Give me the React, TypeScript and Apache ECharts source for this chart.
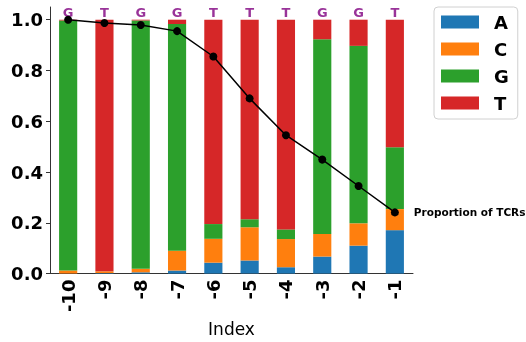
import React, { useEffect, useRef } from "react";
import * as echarts from "echarts";

const categories = ["-10", "-9", "-8", "-7", "-6", "-5", "-4", "-3", "-2", "-1"];
const seriesA = [0.0, 0.002, 0.005, 0.012, 0.043, 0.052, 0.025, 0.067, 0.11, 0.171];
const seriesC = [0.012, 0.007, 0.014, 0.078, 0.094, 0.13, 0.111, 0.089, 0.088, 0.083];
const seriesG = [0.985, 0.0, 0.978, 0.893, 0.058, 0.032, 0.038, 0.767, 0.699, 0.244];
const seriesT = [0.003, 0.991, 0.003, 0.017, 0.805, 0.786, 0.826, 0.077, 0.103, 0.502];
const proportion = [1.0, 0.987, 0.979, 0.955, 0.855, 0.69, 0.545, 0.449, 0.345, 0.241];
const topLetters = ["G", "T", "G", "G", "T", "T", "T", "G", "G", "T"];
const yTicks = [0, 0.2, 0.4, 0.6, 0.8, 1.0];
const lineLabel = "Proportion of TCRs";

const colors = { A: "#1f77b4", C: "#ff7f0e", G: "#2ca02c", T: "#d62728" };
const FONT = "DejaVu Sans";

export default function App() {
  const ref = useRef<HTMLDivElement>(null);
  useEffect(() => {
    if (!ref.current) return;
    const chart = echarts.init(ref.current, null, { renderer: "svg" });
    const bar = (name: string, data: number[], color: string) => ({
      name,
      type: "bar",
      stack: "total",
      data,
      barWidth: "50%",
      itemStyle: { color },
    });
    chart.setOption({
      animation: false,
      textStyle: { fontFamily: FONT },
      grid: { left: 50, top: 7, width: 363, bottom: 65 },
      legend: {
        data: ["A", "C", "G", "T"],
        orient: "vertical",
        left: 434,
        top: 7,
        icon: "rect",
        itemWidth: 38,
        itemHeight: 13,
        itemGap: 7,
        padding: [5, 9, 6, 7],
        borderColor: "#d0d0d0",
        borderWidth: 1,
        borderRadius: 4,
        textStyle: {
          fontFamily: FONT,
          fontWeight: "bold",
          fontSize: 18,
          color: "#000",
          lineHeight: 20,
          padding: [0, 0, 0, 10],
        },
      },
      xAxis: {
        type: "category",
        data: categories,
        name: "Index",
        nameLocation: "middle",
        nameGap: 44,
        nameTextStyle: { fontFamily: FONT, fontSize: 17, color: "#000" },
        axisLine: { lineStyle: { color: "#333", width: 1 } },
        axisTick: { alignWithLabel: true, length: 4, lineStyle: { color: "#333" } },
        axisLabel: {
          rotate: 90,
          fontFamily: FONT,
          fontWeight: "bold",
          fontSize: 18,
          color: "#000",
          margin: 6,
        },
      },
      yAxis: {
        type: "value",
        min: 0,
        max: 1.05,
        interval: 0.2,
        splitLine: { show: false },
        axisLine: { show: true, lineStyle: { color: "#333", width: 1 } },
        axisTick: { show: true, length: 4, customValues: yTicks, lineStyle: { color: "#333" } },
        axisLabel: {
          customValues: yTicks,
          formatter: (v: number) => v.toFixed(1),
          fontFamily: FONT,
          fontWeight: "bold",
          fontSize: 18,
          color: "#000",
          margin: 7,
        },
      },
      series: [
        bar("A", seriesA, colors.A),
        bar("C", seriesC, colors.C),
        bar("G", seriesG, colors.G),
        bar("T", seriesT, colors.T),
        {
          name: "letters",
          type: "scatter",
          data: topLetters.map(() => 1.0),
          symbolSize: 0,
          silent: true,
          label: {
            show: true,
            position: "top",
            distance: 1,
            formatter: (p: any) => topLetters[p.dataIndex],
            color: "#800080",
            fontFamily: FONT,
            fontWeight: "bold",
            fontSize: 13,
          },
          z: 5,
        },
        {
          name: "prop",
          type: "line",
          data: proportion.map((v, i) =>
            i === proportion.length - 1
              ? {
                  value: v,
                  label: {
                    show: true,
                    position: "right",
                    distance: 15,
                    formatter: lineLabel,
                    fontFamily: FONT,
                    fontWeight: "bold",
                    fontSize: 10.5,
                    color: "#000",
                  },
                }
              : v
          ),
          symbol: "circle",
          symbolSize: 8,
          itemStyle: { color: "#000" },
          lineStyle: { color: "#000", width: 1.5 },
          z: 10,
        },
      ],
    });
    return () => chart.dispose();
  }, []);
  return (
    <div
      ref={ref}
      style={{ position: "fixed", left: 0, top: 0, width: 526, height: 342 }}
    />
  );
}
